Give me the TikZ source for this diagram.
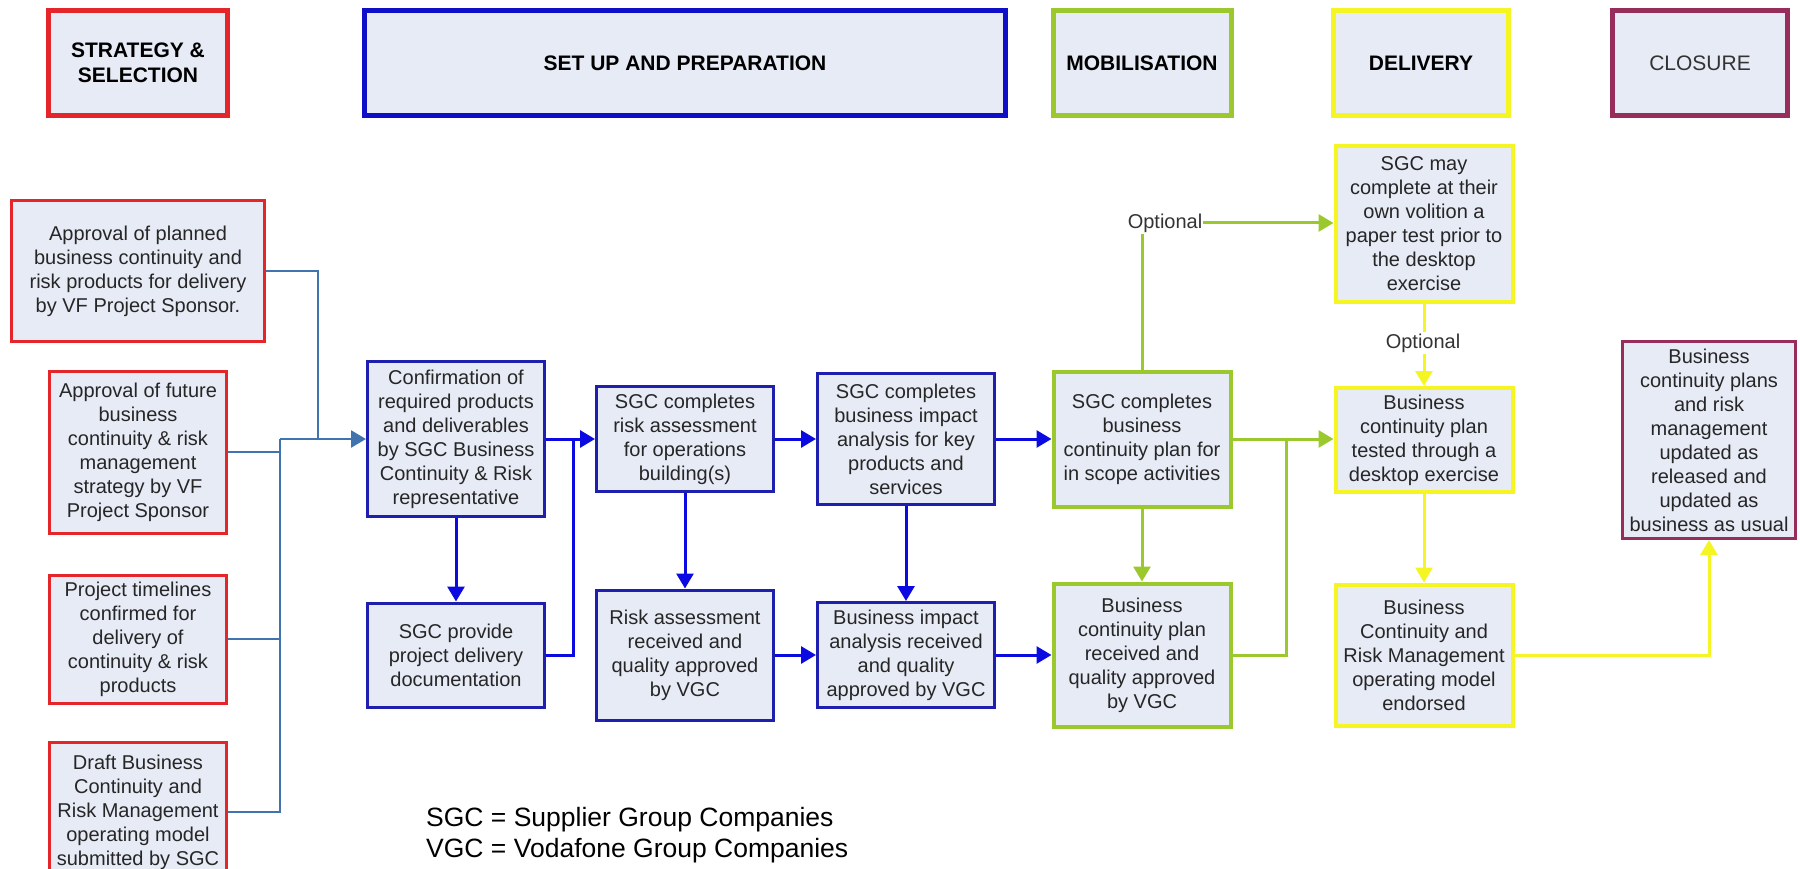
\documentclass[tikz,border=0pt]{standalone}
\usepackage{fontspec}
\setmainfont{Liberation Sans}
\usetikzlibrary{arrows.meta,positioning}

\definecolor{boxfill}{RGB}{231,235,246}
\definecolor{selred}{RGB}{228,38,42}
\definecolor{prepblue}{RGB}{30,30,175}
\definecolor{headblue}{RGB}{15,15,200}
\definecolor{flowblue}{RGB}{10,10,225}
\definecolor{feedblue}{RGB}{65,115,175}
\definecolor{mobgreen}{RGB}{155,200,45}
\definecolor{delyellow}{RGB}{245,245,35}
\definecolor{clospurple}{RGB}{150,45,90}

\begin{document}
\begin{tikzpicture}[x=1pt,y=-1pt,
	box/.style={rectangle,draw,fill=boxfill,line width=3pt,align=center,inner sep=0pt,
		minimum width=177pt,text=black!85,font=\fontsize{20}{24}\selectfont},
	head/.style={box,line width=5pt,minimum height=105pt,text=black,font=\fontsize{21}{25}\selectfont\bfseries},
	sel/.style={box,draw=selred},
	prep/.style={box,draw=prepblue},
	mobil/.style={box,draw=mobgreen,line width=4pt},
	deliv/.style={box,draw=delyellow,line width=4pt},
	closing/.style={box,draw=clospurple},
	tip/.style={-{Triangle[length=15pt,width=17pt]}},
	feed/.style={draw=feedblue,line width=2.5pt},
	flow/.style={draw=flowblue,line width=3pt},
	gflow/.style={draw=mobgreen,line width=3pt},
	yflow/.style={draw=delyellow,line width=3pt},
	optlabel/.style={inner sep=1pt,text=black!80,font=\fontsize{20}{24}\selectfont}]

	\useasboundingbox (0,0) rectangle (1800,869);
	\clip (0,0) rectangle (1800,869);

	% phases
	\node[head,draw=selred,minimum width=179pt] (stratH) at (138,63) {STRATEGY \&\\SELECTION};
	\node[head,draw=headblue,minimum width=641pt] (setupH) at (685,63) {SET UP AND PREPARATION};
	\node[head,draw=mobgreen,minimum width=178pt] (mobH) at (1142,63) {MOBILISATION};
	\node[head,draw=delyellow,minimum width=175pt] (delivH) at (1421,63) {DELIVERY};
	\node[head,draw=clospurple,minimum width=175pt,text=black!80,font=\fontsize{21}{25}\selectfont] (closH) at (1700,63) {CLOSURE};

	% strategy and selection
	\node[sel,minimum width=253pt,minimum height=140pt] (apprPlan) at (138,271) {Approval of planned\\business continuity and\\risk products for delivery\\by VF Project Sponsor.};
	\node[sel,minimum height=162pt] (apprStrat) at (138,452) {Approval of future\\business\\continuity \& risk\\management\\strategy by VF\\Project Sponsor};
	\node[sel,minimum height=128pt] (timeline) at (138,639) {Project timelines\\confirmed for\\delivery of\\continuity \& risk\\products};
	\node[sel,minimum height=140pt] (draftModel) at (138,812) {Draft Business\\Continuity and\\Risk Management\\operating model\\submitted by SGC};

	% set up and preparation
	\node[prep,minimum height=155pt] (confirm) at (456,439) {Confirmation of\\required products\\and deliverables\\by SGC Business\\Continuity \& Risk\\representative};
	\node[prep,minimum height=104pt] (provide) at (456,655) {SGC provide\\project delivery\\documentation};
	\node[prep,minimum height=105pt] (riskAss) at (685,439) {SGC completes\\risk assessment\\for operations\\building(s)};
	\node[prep,minimum height=130pt] (riskRecv) at (685,655) {Risk assessment\\received and\\quality approved\\by VGC};
	\node[prep,minimum height=131pt] (bia) at (906,439) {SGC completes\\business impact\\analysis for key\\products and\\services};
	\node[prep,minimum height=105pt] (biaRecv) at (906,655) {Business impact\\analysis received\\and quality\\approved by VGC};

	% mobilisation
	\node[mobil,minimum height=135pt] (bcp) at (1142,439) {SGC completes\\business\\continuity plan for\\in scope activities};
	\node[mobil,minimum height=143pt] (bcpRecv) at (1142,655) {Business\\continuity plan\\received and\\quality approved\\by VGC};

	% delivery
	\node[deliv,minimum height=155pt] (paperTest) at (1424,224) {SGC may\\complete at their\\own volition a\\paper test prior to\\the desktop\\exercise};
	\node[deliv,minimum height=104pt] (deskTest) at (1424,440) {Business\\continuity plan\\tested through a\\desktop exercise};
	\node[deliv,minimum height=141pt] (endorsed) at (1424,655) {Business\\Continuity and\\Risk Management\\operating model\\endorsed};

	% closure
	\node[closing,minimum width=173pt,minimum height=197pt] (bau) at (1709,440) {Business\\continuity plans\\and risk\\management\\updated as\\released and\\updated as\\business as usual};

	\node[optlabel] (opt1) at (1165,223) {Optional};
	\node[optlabel] (opt2) at (1423,343) {Optional};

	\node[anchor=north west,align=left,inner sep=0pt,font=\fontsize{26.5}{31}\selectfont] (legend) at (426,807) {SGC = Supplier Group Companies\\VGC = Vodafone Group Companies};

	\coordinate (merge) at (280,439);
	\coordinate (planDrop) at (318,439);
	\coordinate (provJoin) at (573,439);
	\coordinate (bcpJoin) at (1286,439);

	% connectors
	\draw[feed] (apprPlan.east) -| (planDrop);
	\draw[feed] (apprStrat.east) -- (apprStrat.east -| merge);
	\draw[feed] (timeline.east) -- (timeline.east -| merge);
	\draw[feed] (draftModel.east) -| (merge);
	\draw[feed,tip] (merge) -- (confirm.west);

	\draw[flow,tip] (confirm.east) -- (riskAss.west);
	\draw[flow,tip] (confirm.south) -- (provide.north);
	\draw[flow] (provide.east) -| (provJoin);
	\draw[flow,tip] (riskAss.east) -- (bia.west);
	\draw[flow,tip] (riskAss.south) -- (riskRecv.north);
	\draw[flow,tip] (riskRecv.east) -- (riskRecv.east -| biaRecv.west);
	\draw[flow,tip] (bia.east) -- (bia.east -| bcp.west);
	\draw[flow,tip] (bia.south) -- (biaRecv.north);
	\draw[flow,tip] (biaRecv.east) -- (biaRecv.east -| bcpRecv.west);

	\draw[gflow] (bcp.north) -- (bcp.north |- opt1.south);
	\draw[gflow,tip] (opt1.east) -- (opt1.east -| paperTest.west);
	\draw[gflow,tip] (bcp.south) -- (bcpRecv.north);
	\draw[gflow,tip] (bcp.east) -- (bcp.east -| deskTest.west);
	\draw[gflow] (bcpRecv.east) -| (bcpJoin);

	\draw[yflow] (paperTest.south) -- (paperTest.south |- opt2.north);
	\draw[yflow,tip] (paperTest.south |- opt2.south) -- (deskTest.north);
	\draw[yflow,tip] (deskTest.south) -- (endorsed.north);
	\draw[yflow,tip] (endorsed.east) -| (bau.south);
\end{tikzpicture}
\end{document}
